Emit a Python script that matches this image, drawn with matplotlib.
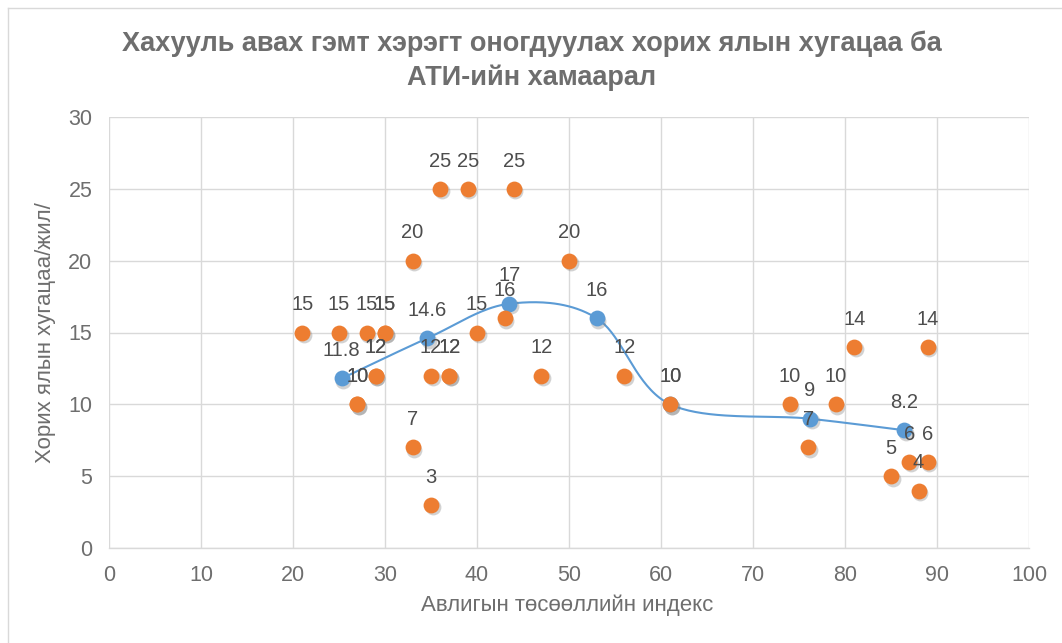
import numpy as np
import matplotlib
matplotlib.use("Agg")
import matplotlib.pyplot as plt
import matplotlib.transforms as mtrans
from matplotlib.lines import Line2D

plt.rcParams['font.family'] = ['Liberation Sans', 'DejaVu Sans']

# orange series: individual cases (some points coincide)
ati = [21, 25, 28, 30, 30, 27, 27, 29, 29, 33, 33, 35, 35, 37, 37, 36, 39, 44,
       40, 43, 47, 50, 56, 61, 74, 76, 79, 81, 85, 87, 88, 89, 89]
term = [15, 15, 15, 15, 15, 10, 10, 12, 12, 20, 7, 3, 12, 12, 12, 25, 25, 25,
        15, 16, 12, 20, 12, 10, 10, 7, 10, 14, 5, 6, 4, 6, 14]

# blue series: averages, drawn with a smoothed line
avg_ati = [25.3, 34.6, 43.5, 53, 61, 76.2, 86.4]
avg_term = [11.8, 14.6, 17, 16, 10, 9, 8.2]

title = "Хахууль авах гэмт хэрэгт оногдуулах хорих ялын хугацаа ба\nАТИ-ийн хамаарал"
xlabel = "Авлигын төсөөллийн индекс"
ylabel = "Хорих ялын хугацаа/жил/"

orange = "#ED7D31"
blue = "#5B9BD5"
grey = "#6e6e6e"
grid = "#D9D9D9"


def smooth(xs, ys, n=40):
    # Catmull-Rom style bezier through the points (like Excel's smoothed line)
    xs = np.asarray(xs, float)
    ys = np.asarray(ys, float)
    px, py = [], []
    k = len(xs)
    for i in range(k - 1):
        p0 = (xs[max(i - 1, 0)], ys[max(i - 1, 0)])
        p1 = (xs[i], ys[i])
        p2 = (xs[i + 1], ys[i + 1])
        p3 = (xs[min(i + 2, k - 1)], ys[min(i + 2, k - 1)])
        c1 = (p1[0] + (p2[0] - p0[0]) / 6, p1[1] + (p2[1] - p0[1]) / 6)
        c2 = (p2[0] - (p3[0] - p1[0]) / 6, p2[1] - (p3[1] - p1[1]) / 6)
        t = np.linspace(0, 1, n)
        bx = (1 - t)**3 * p1[0] + 3 * (1 - t)**2 * t * c1[0] + 3 * (1 - t) * t**2 * c2[0] + t**3 * p2[0]
        by = (1 - t)**3 * p1[1] + 3 * (1 - t)**2 * t * c1[1] + 3 * (1 - t) * t**2 * c2[1] + t**3 * p2[1]
        px.extend(bx)
        py.extend(by)
    return px, py


fig = plt.figure(figsize=(10.62, 6.43), dpi=100)
ax = fig.add_axes([109 / 1062, 1 - 548 / 643, 920 / 1062, 431 / 643])

ax.set_xlim(0, 100)
ax.set_ylim(0, 30)
ax.set_xticks(range(0, 101, 10))
ax.set_yticks(range(0, 31, 5))
ax.grid(True, color=grid, linewidth=1.0)
ax.set_axisbelow(True)
for s in ["left", "right", "top"]:
    ax.spines[s].set_visible(False)
ax.spines["bottom"].set_color(grid)
ax.spines["bottom"].set_linewidth(1.0)
ax.tick_params(length=0, labelsize=15.5, labelcolor=grey)
ax.tick_params(axis='y', pad=12)
ax.tick_params(axis='x', pad=12)

ms = 130
shadow = mtrans.offset_copy(ax.transData, fig=fig, x=1.2, y=-1.8, units='points')

# blue series
sx, sy = smooth(avg_ati, avg_term)
ax.plot(sx, sy, color=blue, linewidth=1.5, zorder=3)
ax.scatter(avg_ati, avg_term, s=ms, color="#808080", alpha=0.35, linewidths=0,
           transform=shadow, zorder=3)
ax.scatter(avg_ati, avg_term, s=ms, color=blue, linewidths=0, zorder=4)
for x, y in zip(avg_ati, avg_term):
    ax.annotate(f"{y:g}", (x, y), xytext=(0, 20), textcoords='offset points',
                ha='center', va='center', fontsize=14.5, color="#4d4d4d", zorder=5)

# orange series
ax.scatter(ati, term, s=ms, color="#808080", alpha=0.35, linewidths=0,
           transform=shadow, zorder=5)
ax.scatter(ati, term, s=ms, color=orange, linewidths=0, zorder=6)
for x, y in zip(ati, term):
    ax.annotate(f"{y:g}", (x, y), xytext=(0, 20), textcoords='offset points',
                ha='center', va='center', fontsize=14.5, color="#4d4d4d", zorder=7)

fig.text(532 / 1062, 1 - 61 / 643, title, ha='center', va='center',
         fontsize=19.5, fontweight='bold', color=grey, linespacing=1.35)
fig.text(567 / 1062, 1 - 605 / 643, xlabel, ha='center', va='center',
         fontsize=16, color=grey)
fig.text(46 / 1062, 1 - 333 / 643, ylabel, ha='center', va='center',
         fontsize=16, color=grey, rotation=90)

# chart area border
fig.add_artist(Line2D([7.5 / 1062, 7.5 / 1062], [0, 1 - 7.5 / 643],
                      transform=fig.transFigure, color=grid, linewidth=1.0))
fig.add_artist(Line2D([7.5 / 1062, 1], [1 - 7.5 / 643, 1 - 7.5 / 643],
                      transform=fig.transFigure, color=grid, linewidth=1.0))

fig.savefig("out.png", dpi=100)
